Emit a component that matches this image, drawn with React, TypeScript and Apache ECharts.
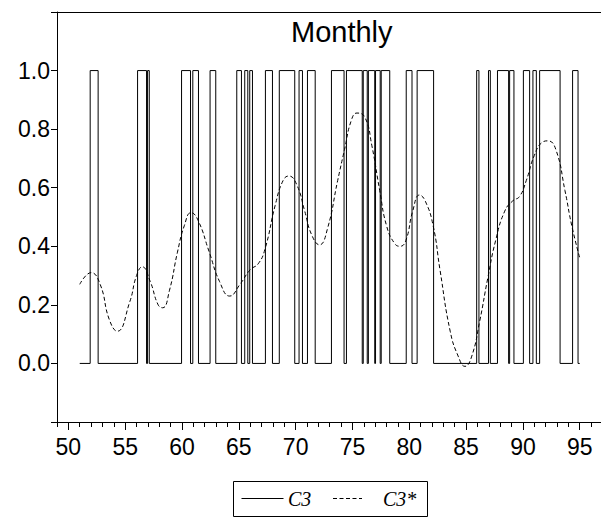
import React, { useEffect, useRef } from "react";
import * as echarts from "echarts";

// C3: periods (decimal years, 19xx) during which the indicator equals 1
const c3OnStart = [51.92, 56.09, 56.97, 59.96, 60.95, 62.47, 64.82, 65.52, 65.96, 67.34, 68.56, 70.3, 71.04, 73.15, 74.47, 75.95, 76.4, 77.03, 77.53, 79.73, 80.69, 85.93, 86.97, 87.76, 88.83, 90.04, 90.88, 91.47, 94.37];
const c3OnEnd = [52.62, 56.88, 57.12, 60.75, 61.45, 62.97, 65.23, 65.79, 66.2, 67.96, 69.92, 70.6, 71.72, 74.26, 75.86, 76.3, 76.96, 77.44, 78.28, 80.24, 82.14, 86.13, 87.13, 88.74, 89.21, 90.59, 91.18, 93.27, 94.85];
const c3First = 51.0;
const c3Last = 95.0;

// C3*: smooth fitted probability
const c3sYears = [51.0, 52.0, 52.8, 53.6, 54.3, 55.4, 56.0, 56.5, 57.2, 57.9, 58.3, 58.9, 59.6, 60.2, 60.8, 61.4, 62.4, 63.3, 64.2, 65.1, 66.0, 66.7, 67.3, 68.2, 68.9, 69.4, 70.1, 70.8, 71.4, 72.1, 72.8, 73.7, 74.3, 74.9, 75.4, 76.1, 76.7, 77.4, 78.0, 78.7, 79.2, 79.7, 80.3, 80.9, 81.4, 82.1, 82.7, 83.6, 84.3, 84.9, 85.5, 86.2, 86.9, 87.6, 88.4, 89.1, 89.7, 90.3, 91.0, 91.7, 92.2, 92.9, 93.7, 94.3, 95.0];
const c3sValues = [0.27, 0.31, 0.27, 0.15, 0.11, 0.21, 0.30, 0.33, 0.28, 0.20, 0.19, 0.25, 0.38, 0.47, 0.515, 0.49, 0.38, 0.28, 0.23, 0.27, 0.32, 0.34, 0.39, 0.54, 0.625, 0.64, 0.61, 0.52, 0.44, 0.405, 0.46, 0.625, 0.73, 0.83, 0.855, 0.84, 0.745, 0.59, 0.47, 0.41, 0.40, 0.42, 0.52, 0.575, 0.555, 0.47, 0.32, 0.11, 0.025, -0.01, 0.025, 0.145, 0.29, 0.42, 0.52, 0.555, 0.57, 0.625, 0.71, 0.755, 0.76, 0.73, 0.59, 0.47, 0.36];

const majorTicks = [50, 55, 60, 65, 70, 75, 80, 85, 90, 95];
const minorTicks = [49, 50, 51, 52, 53, 54, 55, 56, 57, 58, 59, 60, 61, 62, 63, 64, 65, 66, 67, 68, 69, 70, 71, 72, 73, 74, 75, 76, 77, 78, 79, 80, 81, 82, 83, 84, 85, 86, 87, 88, 89, 90, 91, 92, 93, 94, 95, 96];

export default function App() {
  const ref = useRef<HTMLDivElement>(null);
  useEffect(() => {
    if (!ref.current) return;
    const chart = echarts.init(ref.current, undefined, { renderer: "svg" });
    const stepData: number[][] = [[c3First, 0]];
    for (let i = 0; i < c3OnStart.length; i++) {
      stepData.push([c3OnStart[i], 0], [c3OnStart[i], 1], [c3OnEnd[i], 1], [c3OnEnd[i], 0]);
    }
    stepData.push([c3Last, 0]);
    const smoothData = c3sYears.map((y, i) => [y, c3sValues[i]]);
    const font = "'Liberation Sans', Arial, sans-serif";
    const xMin = 49;
    const xMax = 96.87;
    chart.setOption({
      animation: false,
      grid: { left: 57, top: 12, right: 0, bottom: 96, show: false, containLabel: false },
      xAxis: [
        {
          type: "value", min: xMin, max: xMax, position: "bottom",
          axisLine: { show: true, onZero: false, lineStyle: { color: "#000" } },
          axisTick: { show: true, length: 8, customValues: majorTicks, lineStyle: { color: "#000" } },
          axisLabel: { customValues: majorTicks, color: "#000", fontSize: 23, fontFamily: font, margin: 13 },
          splitLine: { show: false },
        },
        {
          type: "value", min: xMin, max: xMax, position: "bottom",
          axisLine: { show: false, onZero: false },
          axisTick: { show: true, length: 5, customValues: minorTicks, lineStyle: { color: "#000" } },
          axisLabel: { show: false },
          splitLine: { show: false },
        },
        {
          type: "value", min: xMin, max: xMax, position: "top",
          axisLine: { show: true, onZero: false, lineStyle: { color: "#000" } },
          axisTick: { show: false },
          axisLabel: { show: false },
          splitLine: { show: false },
        },
      ],
      yAxis: {
        type: "value", min: -0.2, max: 1.2, interval: 0.2,
        axisLine: { show: true, onZero: false, lineStyle: { color: "#000" } },
        axisTick: { show: true, length: 6, lineStyle: { color: "#000" } },
        axisLabel: {
          color: "#000", fontSize: 23, fontFamily: font, margin: 7,
          formatter: (v: number) => (v < -0.1 || v > 1.1 ? "" : v.toFixed(1)),
        },
        splitLine: { show: false },
      },
      series: [
        {
          name: "C3", type: "line", xAxisIndex: 0, data: stepData, symbol: "none",
          lineStyle: { color: "#000", width: 1 },
        },
        {
          name: "C3*", type: "line", xAxisIndex: 0, data: smoothData, symbol: "none", smooth: 0.5,
          lineStyle: { color: "#000", width: 1, type: [4, 2.5] },
        },
      ],
      graphic: [
        { type: "text", left: 291, top: 17, style: { text: "Monthly", font: `29px ${font}`, fill: "#000" } },
        { type: "rect", shape: { x: 233.5, y: 481.5, width: 194, height: 35 }, style: { fill: "none", stroke: "#000", lineWidth: 1 } },
        { type: "line", shape: { x1: 241.5, y1: 498.5, x2: 283.5, y2: 498.5 }, style: { stroke: "#000", lineWidth: 1 } },
        { type: "text", x: 288, y: 499, style: { text: "C3", font: `italic 20px 'Liberation Serif', serif`, fill: "#000", verticalAlign: "middle" } },
        { type: "line", shape: { x1: 333, y1: 498.5, x2: 362, y2: 498.5 }, style: { stroke: "#000", lineWidth: 1, lineDash: [4, 2.5] } },
        { type: "text", x: 383, y: 499, style: { text: "C3*", font: `italic 20px 'Liberation Serif', serif`, fill: "#000", verticalAlign: "middle" } },
      ],
    });
    return () => chart.dispose();
  }, []);
  return <div ref={ref} style={{ width: 601, height: 518, position: "absolute", left: 0, top: 0 }} />;
}
